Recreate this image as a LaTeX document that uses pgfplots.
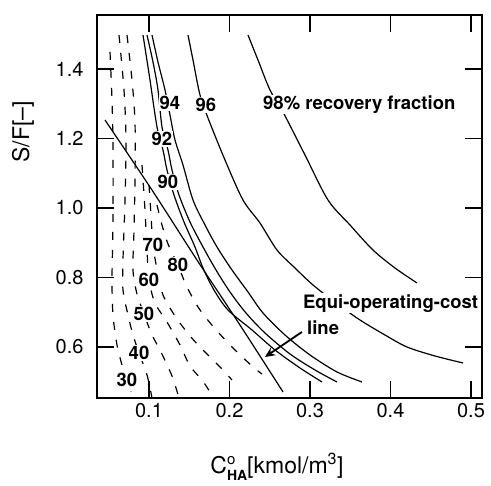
\documentclass[border=0pt]{standalone}
\usepackage{fontspec}
\setmainfont{TeX Gyre Heros}
\usepackage{pgfplots}
\pgfplotsset{compat=1.18}
\usetikzlibrary{arrows.meta}
\pgfplotsset{
  cnt/.style={black, line width=1.2pt, smooth, tension=0.5, no markers},
  dsh/.style={cnt, dash pattern=on 8pt off 10pt},
}
\begin{document}
\begin{tikzpicture}[x=1pt,y=1pt]
\path[use as bounding box] (0,0) rectangle (491,486);
\begin{axis}[
  at={(97pt,88pt)}, anchor=south west,
  width=385pt, height=383pt, scale only axis,
  xmin=0.0354, xmax=0.5137, ymin=0.4532, ymax=1.5554,
  xtick={0.1,0.2,0.3,0.4,0.5}, ytick={0.6,0.8,1.0,1.2,1.4},
  xtick pos=both, ytick pos=both, ticklabel pos=left,
  tick align=inside, major tick length=17pt,
  axis line style={line width=1.5pt},
  every tick/.style={black, line width=1.4pt},
  /pgf/number format/assume math mode=true,
  /pgf/number format/fixed, /pgf/number format/fixed zerofill, /pgf/number format/precision=1,
  tick label style={font=\fontsize{20}{22}\selectfont},
  xticklabel style={yshift=-2pt},
  yticklabel style={xshift=-10pt},
  xlabel={C\rlap{\raisebox{0.8ex}{\fontsize{15}{16}\selectfont o}}\raisebox{-0.55ex}{\fontsize{14}{15}\selectfont\bfseries HA}[kmol/m\textsuperscript{3}]},
  xlabel style={at={(rel axis cs:0.4675,-0.180)}, anchor=center, font=\fontsize{23}{25}\selectfont},
  ylabel={S/F[--]},
  ylabel style={at={(rel axis cs:-0.192,0.695)}, anchor=center, font=\fontsize{23}{25}\selectfont},
  clip=true,
]
% dashed contours 30..80
\addplot[dsh] coordinates {(0.05155,1.4489) (0.05404,1.3108) (0.05528,1.1669) (0.05528,0.9655) (0.05404,0.7928) (0.05528,0.6921) (0.06025,0.6058) (0.06646,0.5482) (0.07267,0.5050) (0.07764,0.4705)};
\addplot[dsh] coordinates {(0.06273,1.4978) (0.06894,1.3396) (0.07143,1.1957) (0.07019,1.0230) (0.06770,0.8504) (0.06770,0.7640) (0.07391,0.6921) (0.08012,0.6345) (0.08758,0.5827) (0.09752,0.5194) (0.10373,0.4532)};
\addplot[dsh] coordinates {(0.07267,1.4978) (0.07888,1.3683) (0.08261,1.2475) (0.08261,1.0806) (0.08137,0.9367) (0.08012,0.8216) (0.08509,0.7525) (0.09379,0.6950) (0.10373,0.6345) (0.11366,0.5914) (0.12857,0.5165) (0.13727,0.4532)};
\addplot[dsh] coordinates {(0.09130,1.1237) (0.09503,0.9942) (0.09752,0.8791) (0.1,0.7928) (0.10745,0.7266) (0.12236,0.6719) (0.13851,0.6058) (0.15093,0.5453) (0.16584,0.5050) (0.17578,0.4705)};
\addplot[dsh] coordinates {(0.1,1.0662) (0.10248,0.9799) (0.10497,0.8935) (0.11118,0.8072) (0.11739,0.7496) (0.13230,0.6892) (0.15093,0.6317) (0.16957,0.5856) (0.18944,0.5396) (0.20311,0.5050)};
\addplot[dsh] coordinates {(0.10994,1.0086) (0.11615,0.9511) (0.12360,0.8964) (0.13602,0.8360) (0.14596,0.7784) (0.16087,0.7151) (0.17702,0.6662) (0.20062,0.6058) (0.22795,0.5453) (0.24037,0.5223)};
% solid contours 90, 92, 94, 96, 98
\addplot[cnt] coordinates {(0.09255,1.4978) (0.10124,1.3683) (0.10994,1.2331) (0.11739,1.1669) (0.12236,1.1094) (0.13106,1.0374) (0.14348,0.9597) (0.15714,0.8878) (0.16708,0.8273) (0.18074,0.7640) (0.19813,0.7065) (0.22795,0.6489) (0.25652,0.5914) (0.28758,0.5396) (0.31491,0.4993)};
\addplot[cnt] coordinates {(0.09752,1.4978) (0.10497,1.4201) (0.11118,1.3396) (0.11615,1.2331) (0.12360,1.1669) (0.12857,1.1094) (0.13727,1.0374) (0.15093,0.9597) (0.16708,0.8878) (0.18323,0.8216) (0.20062,0.7583) (0.22050,0.6978) (0.24410,0.6403) (0.27516,0.5799) (0.30621,0.5338) (0.33354,0.4993)};
\addplot[cnt] coordinates {(0.10373,1.4978) (0.11118,1.4201) (0.11988,1.3396) (0.12608,1.2676) (0.13230,1.1957) (0.14224,1.1237) (0.15466,1.0230) (0.16957,0.9511) (0.18447,0.8878) (0.20311,0.8216) (0.22298,0.7583) (0.24161,0.6978) (0.26894,0.6345) (0.30000,0.5770) (0.33354,0.5281) (0.36460,0.4993)};
\addplot[cnt] coordinates {(0.14845,1.4978) (0.15466,1.4259) (0.16335,1.3252) (0.17329,1.2590) (0.19441,1.1381) (0.21677,1.0230) (0.23789,0.9568) (0.25901,0.8791) (0.28136,0.8273) (0.30373,0.7784) (0.33230,0.7266) (0.36211,0.6777) (0.39316,0.6345) (0.42050,0.6000) (0.45527,0.5741) (0.49006,0.5540)};
\addplot[cnt] coordinates {(0.22298,1.4978) (0.23540,1.4259) (0.25031,1.3396) (0.26646,1.2763) (0.29379,1.1525) (0.32236,1.0230) (0.34969,0.9511) (0.37826,0.8791) (0.40559,0.8273) (0.43292,0.7842)};
% equi-operating-cost line
\addplot[cnt] coordinates {(0.0453,1.2532) (0.1037,1.0518) (0.1596,0.8504) (0.2130,0.6633) (0.2665,0.4705)};
% labels
\tikzset{lbl/.style={fill=white, inner sep=1pt, font=\bfseries\fontsize{18.5}{20}\selectfont}}
\node[lbl] at (axis cs:0.07267,0.5050) {30};
\node[lbl] at (axis cs:0.08758,0.5827) {40};
\node[lbl] at (axis cs:0.09379,0.6950) {50};
\node[lbl] at (axis cs:0.1,0.7928) {60};
\node[lbl] at (axis cs:0.10497,0.8935) {70};
\node[lbl] at (axis cs:0.13602,0.8360) {80};
\node[lbl] at (axis cs:0.1236,1.0748) {90};
\node[lbl] at (axis cs:0.11615,1.1986) {92};
\node[lbl] at (axis cs:0.12608,1.3022) {94};
\node[lbl] at (axis cs:0.17081,1.2964) {96};
\node[lbl, anchor=west] at (axis cs:0.2404,1.2978) {98\% recovery fraction};
\node[lbl, anchor=base west] at (axis cs:0.2900,0.712) {Equi-operating-cost};
\node[lbl, anchor=base west] at (axis cs:0.2950,0.6345) {line};
\addplot[black, line width=1.8pt, -{Stealth[length=10pt,width=9pt]}] coordinates {(0.2900,0.6432) (0.2441,0.5712)};
\end{axis}
\end{tikzpicture}
\end{document}
